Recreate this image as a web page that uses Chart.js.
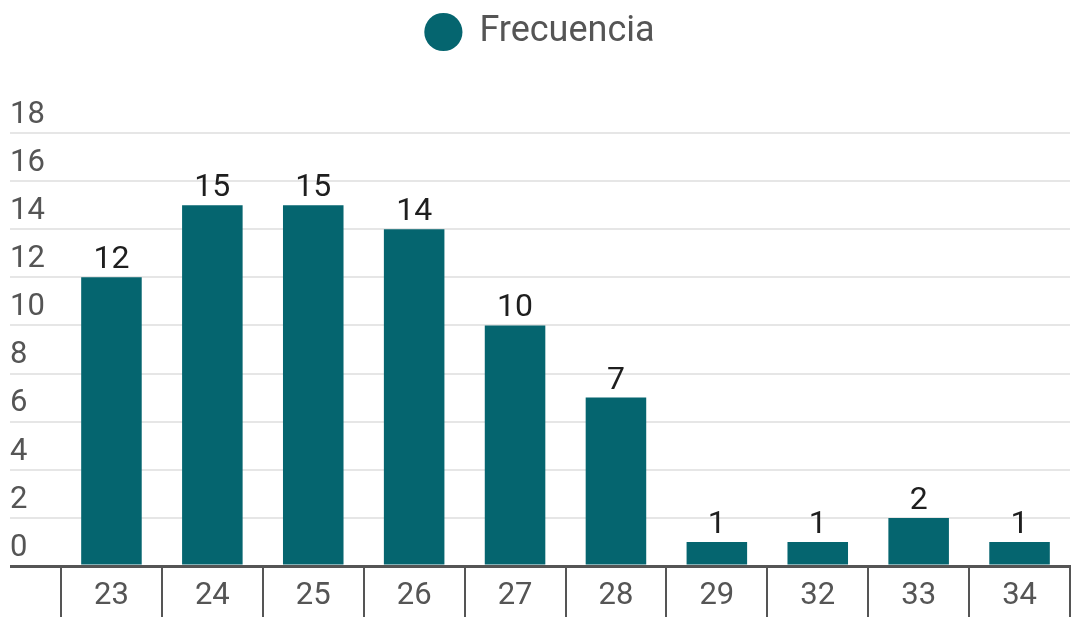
<!DOCTYPE html>
<html>
<head>
<meta charset="utf-8">
<script src="https://cdn.jsdelivr.net/npm/chart.js@4.4.1/dist/chart.umd.min.js"></script>
<style>
  html, body { margin: 0; padding: 0; background: #fff; }
  #wrap { width: 1073px; height: 617px; position: relative; }
</style>
</head>
<body>
<div id="wrap"><canvas id="chart"></canvas></div>
<script>
// edades y su frecuencia
var edades = ["23", "24", "25", "26", "27", "28", "29", "32", "33", "34"];
var frecuencia = [12, 15, 15, 14, 10, 7, 1, 1, 2, 1];
var serieNombre = "Frecuencia";
var yMax = 18;
var yPaso = 2;

var teal = "#05656f";
var gris = "#555555";

// deja espacio debajo de la leyenda
var legendSpacer = {
  id: "legendSpacer",
  beforeInit: function (chart) {
    var fitOrig = chart.legend.fit;
    chart.legend.fit = function () {
      fitOrig.bind(chart.legend)();
      this.height += 73;
    };
  }
};

// numeros encima de las barras
var barLabels = {
  id: "barLabels",
  afterDatasetsDraw: function (chart) {
    var ctx = chart.ctx;
    var meta = chart.getDatasetMeta(0);
    ctx.save();
    ctx.font = "32px Roboto";
    ctx.fillStyle = "#1e1e1e";
    ctx.textAlign = "center";
    ctx.textBaseline = "alphabetic";
    meta.data.forEach(function (bar, i) {
      ctx.fillText(String(frecuencia[i]), bar.x, bar.y - 9);
    });
    ctx.restore();
  }
};

var ctx = document.getElementById("chart");
var chart = new Chart(ctx, {
  type: "bar",
  data: {
    labels: edades,
    datasets: [{
      label: serieNombre,
      data: frecuencia,
      backgroundColor: teal,
      borderWidth: 0,
      barPercentage: 0.6,
      categoryPercentage: 1.0
    }]
  },
  options: {
    responsive: true,
    maintainAspectRatio: false,
    animation: false,
    layout: { padding: { left: 10, right: 3, top: 0, bottom: 0 } },
    plugins: {
      tooltip: { enabled: false },
      legend: {
        display: true,
        position: "top",
        labels: {
          usePointStyle: true,
          pointStyle: "circle",
          boxWidth: 36,
          boxHeight: 27,
          padding: 14,
          color: gris,
          font: { family: "Roboto", size: 36 }
        }
      }
    },
    scales: {
      x: {
        afterFit: function (scale) { scale.height = 51; },
        grid: {
          offset: true,
          drawOnChartArea: false,
          drawTicks: true,
          tickLength: 60,
          color: gris,
          lineWidth: 2
        },
        border: { display: true, color: gris, width: 3 },
        ticks: {
          color: gris,
          font: { family: "Roboto", size: 31 },
          padding: -48
        }
      },
      y: {
        min: 0,
        max: yMax,
        afterFit: function (scale) { scale.width = 51; },
        grid: {
          drawTicks: true,
          tickLength: 51,
          color: function (c) { return c.tick && c.tick.value === 0 ? gris : "#e6e6e6"; },
          lineWidth: function (c) { return c.tick && c.tick.value === 0 ? 3 : 2; }
        },
        border: { display: false },
        ticks: {
          stepSize: yPaso,
          crossAlign: "far",
          labelOffset: -18,
          color: gris,
          font: { family: "Roboto", size: 31 }
        }
      }
    }
  },
  plugins: [legendSpacer, barLabels]
});
</script>
</body>
</html>
